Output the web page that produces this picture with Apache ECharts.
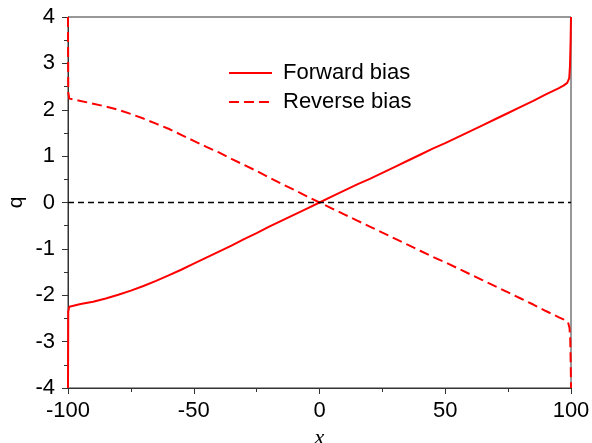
<!DOCTYPE html>
<html>
<head>
    <meta charset="utf-8">
    <title>Forward / reverse bias</title>
    <script src="https://cdn.jsdelivr.net/npm/echarts@6/dist/echarts.min.js"></script>
    <style>
        html, body { margin: 0; padding: 0; background: #fff; }
        #chart { width: 592px; height: 443px; }
    </style>
</head>
<body>
    <div id="chart"></div>
    <script>
        // values
        var fwdX = [-100, -99.9, -99.5, -95, -90, -85, -80, -75, -70, -65, -60, -55, -50, -45, -40, -35, -30, -25, -20, -15, -10, -5,
                    0, 5, 10, 15, 20, 25, 30, 35, 40, 45, 50, 55, 60, 65, 70, 75, 80, 85, 90, 95, 97, 98.5, 99.3, 99.6, 99.85, 100];
        var fwdQ = [-4, -2.35, -2.25, -2.19, -2.14, -2.07, -1.99, -1.90, -1.80, -1.69, -1.57, -1.45, -1.32, -1.19, -1.06, -0.93, -0.79, -0.66, -0.52, -0.39, -0.26, -0.13,
                    0.0, 0.13, 0.26, 0.39, 0.51, 0.64, 0.77, 0.90, 1.03, 1.16, 1.28, 1.41, 1.54, 1.67, 1.80, 1.93, 2.06, 2.19, 2.33, 2.46, 2.52, 2.58, 2.68, 2.95, 3.5, 4];

        var revX = [-100, -99.9, -99.5, -95, -90, -85, -80, -75, -70, -65, -60, -55, -50, -45, -40, -35, -30, -25, -20, -15, -10, -5,
                    0, 5, 10, 15, 20, 25, 30, 35, 40, 45, 50, 55, 60, 65, 70, 75, 80, 85, 90, 95, 97, 98.8, 99.4, 99.7, 99.9, 100];
        var revQ = [4, 2.38, 2.24, 2.19, 2.13, 2.07, 2.00, 1.91, 1.81, 1.70, 1.59, 1.46, 1.33, 1.20, 1.08, 0.94, 0.81, 0.68, 0.54, 0.40, 0.27, 0.13,
                    0.0, -0.13, -0.26, -0.39, -0.52, -0.65, -0.78, -0.91, -1.04, -1.17, -1.29, -1.42, -1.55, -1.68, -1.81, -1.94, -2.07, -2.20, -2.34, -2.47, -2.52, -2.58, -2.70, -2.95, -3.5, -4];

        var refLevel = 0;

        function pairs(xs, ys) {
            var out = [];
            for (var i = 0; i < xs.length; i++) out.push([xs[i], ys[i]]);
            return out;
        }

        var font = "'Liberation Sans', Arial, sans-serif";
        var axisCol = '#333';

        var chart = echarts.init(document.getElementById('chart'));
        chart.setOption({
            animation: false,
            grid: {
                left: 68, right: 21, top: 17, bottom: 55,
                outerBoundsMode: 'none',
                show: true, borderColor: axisCol, borderWidth: 1
            },
            legend: {
                orient: 'vertical',
                left: 223, top: 57,
                itemWidth: 43, itemHeight: 14, itemGap: 7,
                itemStyle: { opacity: 0 },
                textStyle: { fontFamily: font, fontSize: 22, color: '#000', lineHeight: 22, padding: [0, 0, 0, 6] },
                data: ['Forward bias', 'Reverse bias']
            },
            xAxis: {
                type: 'value', min: -100, max: 100, interval: 50,
                name: 'x', nameLocation: 'middle', nameGap: 36,
                nameTextStyle: { fontFamily: "'Liberation Serif', 'Times New Roman', serif", fontStyle: 'italic', fontSize: 22, color: '#000' },
                axisLine: { onZero: false, lineStyle: { color: axisCol, width: 1 } },
                axisTick: { inside: false, length: 6, lineStyle: { color: axisCol } },
                minorTick: { show: true, splitNumber: 2, length: 4, lineStyle: { color: axisCol } },
                axisLabel: { fontFamily: font, fontSize: 22, color: '#000', margin: 12 },
                splitLine: { show: false }
            },
            yAxis: {
                type: 'value', min: -4, max: 4, interval: 1,
                name: 'q', nameLocation: 'middle', nameGap: 41, nameRotate: 90,
                nameMoveOverlap: false,
                nameTextStyle: { fontFamily: font, fontSize: 21, color: '#000' },
                axisLine: { onZero: false, lineStyle: { color: axisCol, width: 1 } },
                axisTick: { inside: false, length: 6, lineStyle: { color: axisCol } },
                minorTick: { show: true, splitNumber: 2, length: 4, lineStyle: { color: axisCol } },
                axisLabel: { fontFamily: font, fontSize: 22, color: '#000', margin: 13 },
                splitLine: { show: false }
            },
            series: [
                {
                    name: 'Forward bias', type: 'line', showSymbol: false, symbol: 'none',
                    data: pairs(fwdX, fwdQ),
                    color: '#ff0000',
                    lineStyle: { color: '#ff0000', width: 2 },
                    markLine: {
                        silent: true, symbol: 'none', label: { show: false },
                        lineStyle: { color: '#000', type: [6, 4], width: 1.4 },
                        data: [{ yAxis: refLevel }]
                    },
                    z: 3
                },
                {
                    name: 'Reverse bias', type: 'line', showSymbol: false, symbol: 'none',
                    data: pairs(revX, revQ),
                    color: '#ff0000',
                    lineStyle: { color: '#ff0000', width: 2, type: [10, 5] },
                    z: 3
                }
            ]
        });
    </script>
</body>
</html>
